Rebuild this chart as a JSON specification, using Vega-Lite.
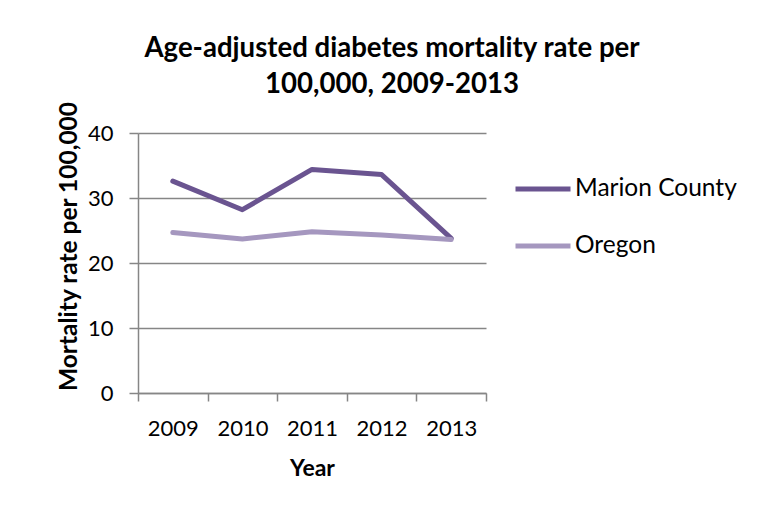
{
  "$schema": "https://vega.github.io/schema/vega-lite/v6.json",
  "autosize": "none",
  "width": 348,
  "height": 260,
  "padding": {"left": 138, "top": 133, "right": 277, "bottom": 121},
  "background": "white",
  "config": {
    "font": "Lato",
    "view": {"stroke": null}
  },
  "title": {
    "text": ["Age-adjusted diabetes mortality rate per", "100,000, 2009-2013"],
    "anchor": "middle",
    "frame": "group",
    "dx": 80,
    "fontSize": 27.6,
    "fontWeight": "bold",
    "lineHeight": 36,
    "color": "black",
    "offset": 2
  },
  "data": {
    "values": [
      {"year": "2009", "series": "Marion County", "value": 32.6},
      {"year": "2010", "series": "Marion County", "value": 28.2},
      {"year": "2011", "series": "Marion County", "value": 34.4},
      {"year": "2012", "series": "Marion County", "value": 33.6},
      {"year": "2013", "series": "Marion County", "value": 23.8},
      {"year": "2009", "series": "Oregon", "value": 24.7},
      {"year": "2010", "series": "Oregon", "value": 23.7},
      {"year": "2011", "series": "Oregon", "value": 24.8},
      {"year": "2012", "series": "Oregon", "value": 24.3},
      {"year": "2013", "series": "Oregon", "value": 23.6}
    ]
  },
  "mark": {"type": "line", "strokeWidth": 5, "strokeCap": "round", "strokeJoin": "round"},
  "encoding": {
    "x": {
      "field": "year",
      "type": "ordinal",
      "bandPosition": 0.5,
      "scale": {"type": "band", "paddingInner": 0, "paddingOuter": 0},
      "axis": {
        "title": "Year",
        "titleFontSize": 23,
        "titleFontWeight": "bold",
        "titleColor": "black",
        "titlePadding": 18,
        "labelAngle": 0,
        "labelFontSize": 22,
        "labelColor": "black",
        "labelPadding": 17,
        "tickBand": "extent",
        "tickSize": 8,
        "tickColor": "#868686",
        "tickWidth": 1.5,
        "domainColor": "#868686",
        "domainWidth": 1.5,
        "grid": false
      }
    },
    "y": {
      "field": "value",
      "type": "quantitative",
      "scale": {"domain": [0, 40], "nice": false},
      "axis": {
        "title": "Mortality rate per 100,000",
        "titleFontSize": 24.5,
        "titleFontWeight": "bold",
        "titleColor": "black",
        "titleX": -69,
        "titleY": 113,
        "titleAlign": "center",
        "titleBaseline": "middle",
        "values": [0, 10, 20, 30, 40],
        "labelFontSize": 22,
        "labelColor": "black",
        "labelPadding": 16,
        "tickSize": 9,
        "tickColor": "#868686",
        "tickWidth": 1.5,
        "domainColor": "#868686",
        "domainWidth": 1.5,
        "grid": true,
        "gridColor": "#868686",
        "gridWidth": 1.5
      }
    },
    "color": {
      "field": "series",
      "type": "nominal",
      "scale": {"domain": ["Marion County", "Oregon"], "range": ["#6a5490", "#a597bf"]},
      "legend": {
        "title": null,
        "orient": "none",
        "legendX": 375,
        "legendY": 26,
        "symbolType": "stroke",
        "symbolSize": 3025,
        "symbolStrokeWidth": 5,
        "labelFontSize": 24.5,
        "labelLimit": 300,
        "labelColor": "black",
        "labelOffset": 2,
        "rowPadding": 15
      }
    }
  }
}
